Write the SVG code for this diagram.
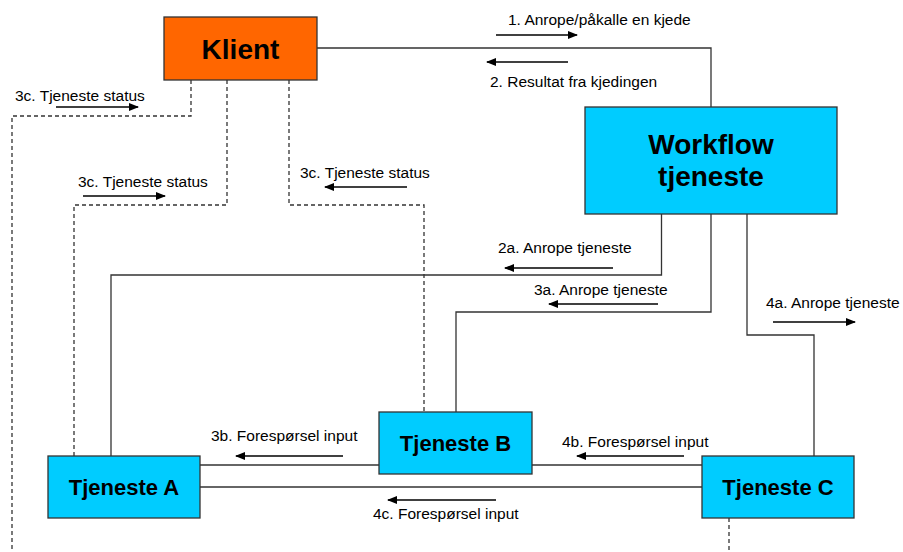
<svg xmlns="http://www.w3.org/2000/svg" width="903" height="552" viewBox="0 0 903 552">
  <style>
    .conn { fill: none; stroke: #333333; stroke-width: 1.3; }
    .dash { fill: none; stroke: #333333; stroke-width: 1.3; stroke-dasharray: 4 3; }
    .arrow { stroke: #000000; stroke-width: 1.5; marker-end: url(#head); }
    .lbl { font-family: "Liberation Sans", Arial, sans-serif; font-size: 15.5px; fill: #000000; }
    .node { stroke: #333333; stroke-width: 1.3; }
    .client { fill: #FF6600; }
    .svc { fill: #00CCFF; }
    .title { font-family: "Liberation Sans", Arial, sans-serif; font-weight: bold; fill: #000000; text-anchor: middle; }
  </style>
  <defs>
    <marker id="head" markerUnits="userSpaceOnUse" markerWidth="10" markerHeight="8" refX="9" refY="4" orient="auto">
      <path d="M0,0 L10,4 L0,8 Z" fill="#000000"/>
    </marker>
  </defs>
  <rect width="903" height="552" fill="#ffffff"/>

  <g id="connectors">
    <!-- solid links -->
    <path class="conn" d="M317,48 H711 V107"/>
    <path class="conn" d="M661.5,214 V275 H111 V456"/>
    <path class="conn" d="M711,214 V312 H456 V412"/>
    <path class="conn" d="M747,214 V335 H814 V456"/>
    <path class="conn" d="M200,465 H379"/>
    <path class="conn" d="M532,465 H702"/>
    <path class="conn" d="M200,487 H702"/>
    <!-- status lines (dashed) -->
    <path class="dash" d="M191,80 V116 H12 V552"/>
    <path class="dash" d="M227,80 V205 H74 V456"/>
    <path class="dash" d="M289,80 V205 H424 V412"/>
    <path class="dash" d="M729,518 V552"/>
  </g>

  <g id="flow-arrows">
    <line class="arrow" x1="496" y1="35" x2="577" y2="35"/>
    <line class="arrow" x1="568" y1="62" x2="487" y2="62"/>
    <line class="arrow" x1="56" y1="107" x2="138" y2="107"/>
    <line class="arrow" x1="83" y1="196" x2="165" y2="196"/>
    <line class="arrow" x1="407" y1="187" x2="325" y2="187"/>
    <line class="arrow" x1="613" y1="268" x2="505" y2="268"/>
    <line class="arrow" x1="658" y1="304" x2="549" y2="304"/>
    <line class="arrow" x1="773" y1="322" x2="855" y2="322"/>
    <line class="arrow" x1="343" y1="456" x2="236" y2="456"/>
    <line class="arrow" x1="684" y1="456" x2="577" y2="456"/>
    <line class="arrow" x1="496" y1="500" x2="388" y2="500"/>
  </g>

  <g id="labels">
    <text class="lbl" x="508" y="25">1. Anrope/påkalle en kjede</text>
    <text class="lbl" x="490" y="87">2. Resultat fra kjedingen</text>
    <text class="lbl" x="15" y="101">3c. Tjeneste status</text>
    <text class="lbl" x="78" y="187">3c. Tjeneste status</text>
    <text class="lbl" x="300" y="178">3c. Tjeneste status</text>
    <text class="lbl" x="498" y="253">2a. Anrope tjeneste</text>
    <text class="lbl" x="534" y="295">3a. Anrope tjeneste</text>
    <text class="lbl" x="766" y="308">4a. Anrope tjeneste</text>
    <text class="lbl" x="211" y="441">3b. Forespørsel input</text>
    <text class="lbl" x="562" y="447">4b. Forespørsel input</text>
    <text class="lbl" x="373" y="519">4c. Forespørsel input</text>
  </g>

  <g id="klient">
    <rect class="node client" x="164" y="17" width="153" height="63"/>
    <text class="title" x="240.5" y="59" font-size="28">Klient</text>
  </g>

  <g id="workflow-tjeneste">
    <rect class="node svc" x="585" y="107" width="252" height="107"/>
    <text class="title" x="711" y="154" font-size="28">Workflow</text>
    <text class="title" x="711" y="186" font-size="28">tjeneste</text>
  </g>

  <g id="tjeneste-a">
    <rect class="node svc" x="48" y="456" width="152" height="62"/>
    <text class="title" x="124" y="495" font-size="22">Tjeneste A</text>
  </g>

  <g id="tjeneste-b">
    <rect class="node svc" x="379" y="412" width="153" height="62"/>
    <text class="title" x="455.5" y="451" font-size="22">Tjeneste B</text>
  </g>

  <g id="tjeneste-c">
    <rect class="node svc" x="702" y="456" width="152" height="62"/>
    <text class="title" x="778" y="495" font-size="22">Tjeneste C</text>
  </g>
</svg>
